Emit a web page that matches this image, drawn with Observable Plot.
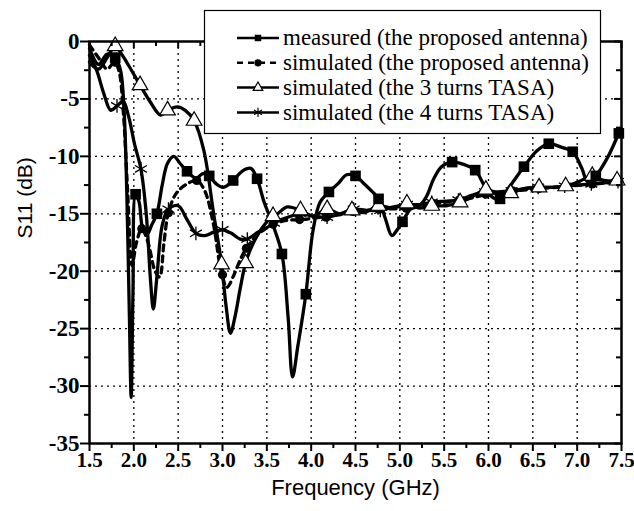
<!DOCTYPE html>
<html>
<head>
<meta charset="utf-8">
<script src="https://cdn.jsdelivr.net/npm/d3@7"></script>
<script src="https://cdn.jsdelivr.net/npm/@observablehq/plot@0.6"></script>
<style>
  html, body { margin: 0; padding: 0; background: #fff; }
</style>
</head>
<body>
<div id="chart"></div>
<script>
// ---------- data ----------
const legendLabels = [
  "measured (the proposed antenna)",
  "simulated (the proposed antenna)",
  "simulated (the 3 turns TASA)",
  "simulated (the 4 turns TASA)"
];

const xMajorTicks = [1.5, 2.0, 2.5, 3.0, 3.5, 4.0, 4.5, 5.0, 5.5, 6.0, 6.5, 7.0, 7.5];
const xMinorTicks = [1.75, 2.25, 2.75, 3.25, 3.75, 4.25, 4.75, 5.25, 5.75, 6.25, 6.75, 7.25];
const xGrid = [2.0, 2.5, 3.0, 3.5, 4.0, 4.5, 5.0, 5.5, 6.0, 6.5, 7.0];
const yMajorTicks = [0, -5, -10, -15, -20, -25, -30, -35];
const yMinorTicks = [-2.5, -7.5, -12.5, -17.5, -22.5, -27.5, -32.5];
const yGrid = [-5, -10, -15, -20, -25, -30];

// measured (the proposed antenna)
const measF = [1.5, 1.6, 1.7, 1.79, 1.85, 1.89, 1.92, 1.95, 1.97, 1.99, 2.02, 2.06, 2.1, 2.15, 2.2, 2.26, 2.32, 2.38, 2.45, 2.52, 2.6, 2.7, 2.78, 2.85, 2.93, 3.01, 3.12, 3.22, 3.32, 3.39, 3.47, 3.57, 3.67, 3.74, 3.79, 3.85, 3.94, 4.02, 4.1, 4.2, 4.3, 4.4, 4.5, 4.6, 4.68, 4.76, 4.84, 4.91, 4.97, 5.03, 5.12, 5.22, 5.3, 5.38, 5.47, 5.59, 5.72, 5.85, 5.95, 6.05, 6.13, 6.25, 6.4, 6.55, 6.68, 6.82, 6.95, 7.05, 7.12, 7.21, 7.35, 7.47, 7.5];
const measS = [-0.6, -2.0, -1.1, -1.4, -2.5, -6, -13, -24, -31, -22, -13.3, -14, -16.3, -16.8, -16, -15.0, -12.5, -10.6, -10.0, -10.6, -11.3, -11.9, -11.5, -11.7, -12.4, -12.7, -12.1, -11.3, -11.05, -11.95, -14, -16, -18.5, -24, -29.2, -26.5, -22, -16.5, -14, -13.1, -12.4, -11.6, -11.7, -12.4, -13, -13.7, -15.5, -16.9, -16.4, -15.7, -14.6, -14.3, -13.5, -12.0, -10.9, -10.5, -10.7, -11.2, -12.5, -13.6, -13.7, -12.5, -10.9, -9.5, -8.9, -9.2, -9.6, -11.0, -12.2, -11.7, -10.0, -8.0, -7.6];
const measMarkF = [1.79, 2.02, 2.26, 2.6, 2.85, 3.12, 3.39, 3.67, 3.94, 4.2, 4.5, 4.76, 5.03, 5.59, 5.85, 6.13, 6.4, 6.68, 6.95, 7.21, 7.47];
const measMarkS = [-1.4, -13.3, -15.0, -11.3, -11.7, -12.1, -11.95, -18.5, -22, -13.1, -11.7, -13.7, -15.7, -10.5, -11.2, -13.7, -10.9, -8.9, -9.6, -11.7, -8.0];

// simulated (the proposed antenna)
const simPF = [1.5, 1.6, 1.7, 1.78, 1.83, 1.88, 1.93, 1.98, 2.03, 2.09, 2.16, 2.24, 2.29, 2.34, 2.39, 2.48, 2.6, 2.71, 2.8, 2.9, 2.98, 3.05, 3.13, 3.2, 3.27, 3.4, 3.55, 3.7, 3.9, 4.1, 4.3, 4.5, 4.8, 5.1, 5.4, 5.7, 6.0, 6.3, 6.6, 6.9, 7.2, 7.5];
const simPS = [-0.3, -1.4, -2.4, -1.8, -2.5, -6, -13, -19.5, -17.5, -16.3, -17.5, -20, -20.5, -17.5, -14.9, -13.2, -12.4, -12.1, -13, -16, -19.8, -21.4, -20.3, -19, -18, -16.8, -16, -15.6, -15.5, -15.3, -15.1, -14.8, -14.6, -14.5, -14.1, -13.8, -13.3, -13.0, -12.8, -12.6, -12.4, -12.2];
const simPMarkF = [1.79, 2.09, 2.39, 2.71, 3.0, 3.27, 3.57, 3.87, 4.17, 4.47, 4.77, 5.07, 5.37, 5.67, 5.97, 6.27, 6.57, 6.87, 7.17, 7.47];
const simPMarkS = [-1.8, -16.3, -14.9, -12.1, -20.3, -18, -15.9, -15.5, -15.3, -14.8, -14.6, -14.5, -14.1, -13.8, -13.3, -13.0, -12.8, -12.6, -12.4, -12.2];

// simulated (the 3 turns TASA)
const t3F = [1.5, 1.6, 1.7, 1.79, 1.87, 1.95, 2.07, 2.18, 2.3, 2.38, 2.49, 2.58, 2.68, 2.79, 2.9, 2.99, 3.04, 3.09, 3.14, 3.2, 3.26, 3.35, 3.45, 3.55, 3.62, 3.73, 3.88, 4.02, 4.18, 4.32, 4.46, 4.6, 4.76, 4.92, 5.08, 5.22, 5.36, 5.52, 5.68, 5.82, 5.97, 6.1, 6.25, 6.4, 6.57, 6.72, 6.87, 7.02, 7.17, 7.3, 7.45, 7.5];
const t3S = [-1.8, -2.4, -1.4, -0.4, -1.2, -2.2, -3.8, -5.2, -6.4, -6.0, -5.7, -6.0, -6.9, -9.5, -15, -19.4, -23, -25.4, -24, -21.5, -19.3, -17.5, -16.2, -15.3, -15.0, -14.4, -14.7, -15.2, -14.6, -15.0, -14.7, -14.9, -14.3, -14.5, -14.1, -14.5, -14.3, -14.3, -14.0, -13.5, -12.9, -13.2, -13.2, -12.8, -12.7, -12.7, -12.6, -12.2, -11.7, -12.1, -12.1, -12.1];
const t3MarkF = [1.79, 2.07, 2.38, 2.68, 2.99, 3.26, 3.57, 3.88, 4.18, 4.46, 4.76, 5.08, 5.36, 5.68, 5.97, 6.25, 6.57, 6.87, 7.17, 7.45];
const t3MarkS = [-0.4, -3.8, -6.0, -6.9, -19.4, -19.3, -15.2, -14.7, -14.6, -14.7, -14.3, -14.1, -14.3, -14.0, -12.9, -13.2, -12.7, -12.6, -11.7, -12.1];

// simulated (the 4 turns TASA)
const t4F = [1.5, 1.58, 1.66, 1.74, 1.81, 1.88, 1.94, 2.01, 2.08, 2.14, 2.19, 2.22, 2.26, 2.32, 2.39, 2.5, 2.6, 2.7, 2.8, 2.9, 3.0, 3.1, 3.2, 3.28, 3.4, 3.5, 3.58, 3.7, 3.88, 4.02, 4.18, 4.33, 4.48, 4.63, 4.78, 4.93, 5.08, 5.22, 5.36, 5.51, 5.66, 5.81, 5.96, 6.11, 6.26, 6.41, 6.56, 6.71, 6.86, 7.01, 7.16, 7.31, 7.46, 7.5];
const t4S = [-1.2, -2.5, -4.5, -6.0, -5.6, -5.2, -6.5, -9, -11.1, -15, -21, -23.3, -20.5, -16, -14.6, -14.3, -15.5, -16.7, -16.9, -16.6, -16.4, -16.7, -17.2, -17.2, -16.6, -16.2, -15.8, -15.4, -15.0, -15.2, -15.3, -15.0, -14.6, -14.7, -14.7, -14.4, -14.2, -14.2, -14.0, -13.9, -13.8, -13.4, -13.1, -13.1, -13.0, -12.8, -12.7, -12.7, -12.6, -12.5, -12.4, -12.3, -12.2, -12.2];
const t4MarkF = [1.81, 2.08, 2.39, 2.7, 3.0, 3.28, 3.58, 3.88, 4.18, 4.48, 4.78, 5.08, 5.36, 5.66, 5.96, 6.26, 6.56, 6.86, 7.16, 7.46];
const t4MarkS = [-5.6, -11.1, -14.6, -16.7, -16.4, -17.2, -15.8, -15.0, -15.3, -14.6, -14.7, -14.2, -14.0, -13.8, -13.1, -13.0, -12.7, -12.6, -12.4, -12.2];

// ---------- build tables ----------
const zip = (fs, ss) => fs.map((f, i) => ({f, s: ss[i]}));
const meas = zip(measF, measS), measM = zip(measMarkF, measMarkS);
const simP = zip(simPF, simPS), simPM = zip(simPMarkF, simPMarkS);
const t3 = zip(t3F, t3S), t3M = zip(t3MarkF, t3MarkS);
const t4 = zip(t4F, t4S), t4M = zip(t4MarkF, t4MarkS);

const W = 634, H = 511;
const mL = 89, mR = 13, mT = 41, mB = 68;
const innerW = W - mL - mR, innerH = H - mT - mB;

const serif = "Liberation Serif, Times New Roman, DejaVu Serif, serif";
const sans = "Liberation Sans, Arial, sans-serif";
const LW = 3.3;

const chart = Plot.plot({
  width: W, height: H,
  marginLeft: mL, marginRight: mR, marginTop: mT, marginBottom: mB,
  x: {domain: [1.5, 7.5]},
  y: {domain: [-35, 0]},
  style: {background: "white", overflow: "visible", fontFamily: serif, fontSize: "20px", fontWeight: "bold", color: "black"},
  marks: [
    Plot.ruleX(xGrid, {stroke: "black", strokeWidth: 1.3, strokeDasharray: "2,4"}),
    Plot.ruleY(yGrid, {stroke: "black", strokeWidth: 1.3, strokeDasharray: "2,4"}),

    Plot.line(t4, {x: "f", y: "s", stroke: "black", strokeWidth: LW, curve: "catmull-rom"}),
    Plot.line(t3, {x: "f", y: "s", stroke: "black", strokeWidth: LW, curve: "catmull-rom"}),
    Plot.line(simP, {x: "f", y: "s", stroke: "black", strokeWidth: LW, strokeDasharray: "6,5", curve: "catmull-rom"}),
    Plot.line(meas, {x: "f", y: "s", stroke: "black", strokeWidth: LW, curve: "catmull-rom"}),

    Plot.dot(t4M, {x: "f", y: "s", symbol: "asterisk", r: 6.5, stroke: "black", strokeWidth: 1.3}),
    Plot.dot(simPM, {x: "f", y: "s", symbol: "circle", r: 4.6, fill: "black", stroke: "none"}),
    Plot.dot(t3M, {x: "f", y: "s", symbol: "triangle", r: 5.8, fill: "white", stroke: "black", strokeWidth: 1.2}),
    Plot.dot(measM, {x: "f", y: "s", symbol: "square", r: 6, fill: "black", stroke: "none"}),

    Plot.frame({stroke: "black", strokeWidth: 2.5}),
    // inward ticks on top and right
    Plot.ruleX(xMajorTicks, {insetBottom: innerH - 7, stroke: "black", strokeWidth: 2}),
    Plot.ruleX(xMinorTicks, {insetBottom: innerH - 5, stroke: "black", strokeWidth: 2}),
    Plot.ruleY(yMajorTicks, {insetLeft: innerW - 7, stroke: "black", strokeWidth: 2}),
    Plot.ruleY(yMinorTicks, {insetLeft: innerW - 5, stroke: "black", strokeWidth: 2}),

    Plot.axisX(xMajorTicks, {anchor: "bottom", tickSize: 8, tickPadding: 1, strokeWidth: 2, stroke: "black",
      tickFormat: d => d.toFixed(1), fill: "black", fontSize: 21, fontWeight: "bold", fontFamily: serif, label: null}),
    Plot.axisX(xMinorTicks, {anchor: "bottom", tickSize: 5, strokeWidth: 2, stroke: "black", tickFormat: () => "", label: null}),
    Plot.axisY(yMajorTicks, {anchor: "left", tickSize: 9, tickPadding: 1, strokeWidth: 2, stroke: "black",
      tickFormat: d => String(d), fill: "black", fontSize: 23, fontWeight: "bold", fontFamily: serif, label: null}),
    Plot.axisY(yMinorTicks, {anchor: "left", tickSize: 5, strokeWidth: 2, stroke: "black", tickFormat: () => "", label: null}),

    Plot.text(["Frequency (GHz)"], {frameAnchor: "bottom", dy: 51, fontSize: 22, fontWeight: "normal", fontFamily: sans, fill: "black"}),
    Plot.text(["S11 (dB)"], {frameAnchor: "left", dx: -64, dy: -4, rotate: -90, fontSize: 21, fontWeight: "normal", fontFamily: sans, fill: "black"})
  ]
});

document.getElementById("chart").appendChild(chart);

// ---------- legend (inside the plot, top right) ----------
const svg = d3.select(chart);
const lg = svg.append("g").attr("text-anchor", "start");
lg.append("rect").attr("x", 204.5).attr("y", 10.5).attr("width", 396).attr("height", 123)
  .attr("fill", "white").attr("stroke", "black").attr("stroke-width", 1.2);
const lgSymbols = [d3.symbolSquare, d3.symbolCircle, d3.symbolTriangle, d3.symbolAsterisk];
legendLabels.forEach((label, i) => {
  const cy = 38 + i * 24.8;
  lg.append("line").attr("x1", 237).attr("x2", 279).attr("y1", cy).attr("y2", cy)
    .attr("stroke", "black").attr("stroke-width", 2.5)
    .attr("stroke-dasharray", i === 1 ? "6,5" : null);
  const sym = d3.symbol().type(lgSymbols[i]).size(i === 3 ? 60 : i === 2 ? 40 : 42)();
  lg.append("path").attr("d", sym).attr("transform", `translate(258,${cy})`)
    .attr("fill", i === 2 ? "white" : i === 3 ? "none" : "black")
    .attr("stroke", i === 0 || i === 1 ? "none" : "black").attr("stroke-width", 1.2);
  lg.append("text").attr("x", 283).attr("y", cy).attr("dy", "0.32em")
    .attr("text-anchor", "start").attr("font-weight", "normal")
    .attr("font-family", serif).attr("font-size", 23).attr("fill", "black").text(label);
});
</script>
</body>
</html>
